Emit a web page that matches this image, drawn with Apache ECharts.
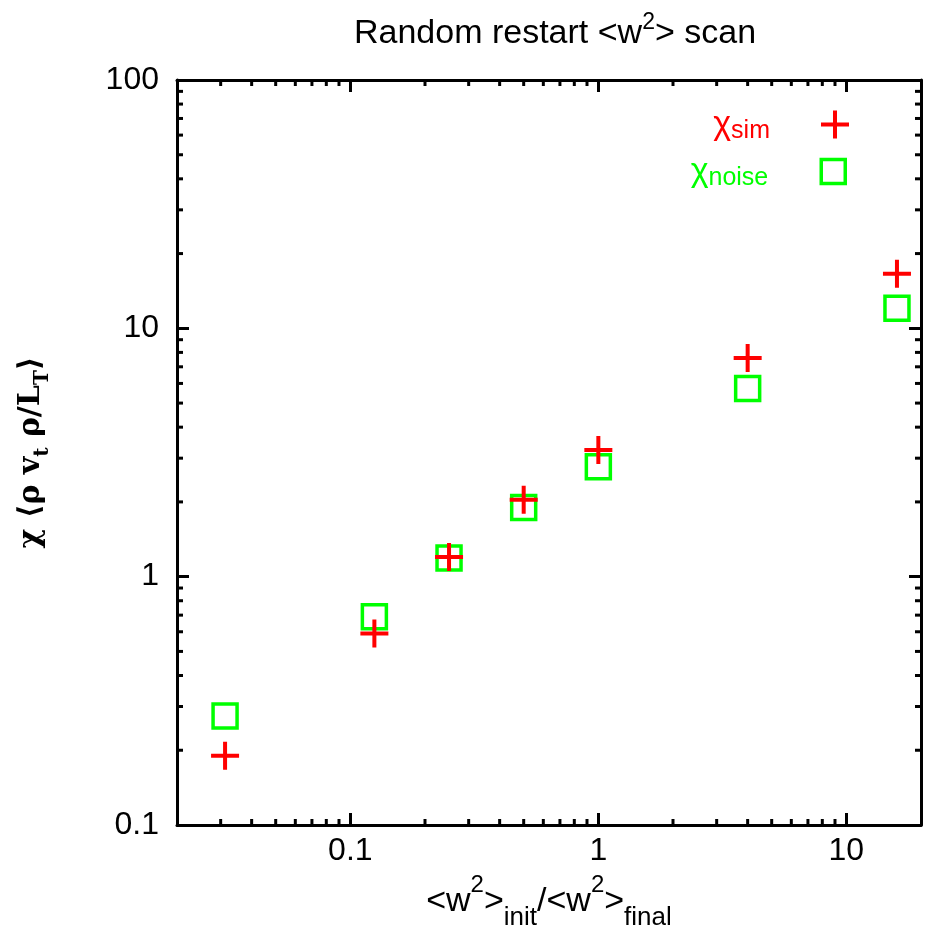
<!DOCTYPE html>
<html>
<head>
<meta charset="utf-8">
<script src="https://cdn.jsdelivr.net/npm/echarts@6/dist/echarts.min.js"></script>
<style>html,body{margin:0;padding:0;background:#fff}#c{width:934px;height:937px}</style>
</head>
<body>
<div id="c"></div>
<script>
// ---- data ----
const xValues = [0.03125, 0.125, 0.25, 0.5, 1, 4, 16];
const chiSim = [0.19, 0.59, 1.20, 2.04, 3.24, 7.6, 16.6];
const chiNoise = [0.275, 0.69, 1.19, 1.90, 2.77, 5.72, 12.05];
const xMajorLabels = [0.1, 1, 10];
const yMajorLabels = [0.1, 1, 10, 100];
const xMinorTicks = [0.03,0.04,0.05,0.06,0.07,0.08,0.09,0.2,0.3,0.4,0.5,0.6,0.7,0.8,0.9,2,3,4,5,6,7,8,9];
const yMinorTicks = [0.2,0.3,0.4,0.5,0.6,0.7,0.8,0.9,2,3,4,5,6,7,8,9,20,30,40,50,60,70,80,90];
const xRange = [0.02, 20];
const yRange = [0.1, 100];

const FONT = '"Liberation Sans", Arial, sans-serif';
const SERIF = '"DejaVu Serif", "Liberation Serif", serif';
const plusPath = 'path://M12,0H16V12H28V16H16V28H12V16H0V12H12Z';

function fmt(v, list) {
  for (const m of list) { if (Math.abs(v - m) / m < 1e-6) return String(m); }
  return '';
}

const chart = echarts.init(document.getElementById('c'), null, {renderer: 'canvas'});

function axisCommon(extra) {
  return Object.assign({
    type: 'log', logBase: 10,
    axisLine: {show: true, lineStyle: {color: '#000', width: 3}},
    axisTick: {show: true, inside: true, length: 12, lineStyle: {color: '#000', width: 3}},
    splitLine: {show: false},
    minorTick: {show: false},
  }, extra);
}

const option = {
  backgroundColor: '#fff',
  animation: false,
  title: {
    text: 'Random restart <w{sup|2}> scan',
    left: 550, top: 6, textAlign: 'center',
    textStyle: {
      fontFamily: FONT, fontSize: 34, fontWeight: 'normal', color: '#000', lineHeight: 46,
      rich: {sup: {fontFamily: FONT, fontSize: 23, verticalAlign: 'top', lineHeight: 46, color: '#000'}}
    }
  },
  grid: {left: 177, right: 13, top: 80, bottom: 112, containLabel: false},
  legend: [
    {
      data: [{name: 'χsim', icon: plusPath}],
      right: 85, top: 105, orient: 'vertical', align: 'right', padding: 0,
      itemWidth: 28, itemHeight: 28,
      formatter: () => '{c|χ}{s|sim}',
      textStyle: {
        color: '#ff0000',
        rich: {
          c: {fontFamily: FONT, fontSize: 34, color: '#ff0000', lineHeight: 40},
          s: {fontFamily: FONT, fontSize: 25, color: '#ff0000', padding: [14, 46, 0, 0], lineHeight: 40}
        }
      },
      itemStyle: {color: '#ff0000', opacity: 1}
    },
    {
      data: [{name: 'χnoise', icon: 'rect', itemStyle: {color: 'rgba(0,0,0,0)', borderColor: '#00ff00', borderWidth: 3.5, opacity: 1}}],
      right: 87, top: 152, orient: 'vertical', align: 'right', padding: 0,
      itemWidth: 24, itemHeight: 24,
      formatter: () => '{c|χ}{s|noise}',
      textStyle: {
        color: '#00ff00',
        rich: {
          c: {fontFamily: FONT, fontSize: 34, color: '#00ff00', lineHeight: 40},
          s: {fontFamily: FONT, fontSize: 25, color: '#00ff00', padding: [14, 48, 0, 0], lineHeight: 40}
        }
      }
    }
  ],
  xAxis: [
    axisCommon({
      position: 'bottom', min: xRange[0], max: xRange[1],
      axisLabel: {show: true, margin: 10, fontFamily: FONT, fontSize: 32, color: '#000',
        showMinLabel: false, showMaxLabel: false,
        formatter: v => fmt(v, xMajorLabels)},
      name: '<w{sup|2}>{sub|init}/<w{sup|2}>{sub|final}',
      nameLocation: 'middle', nameGap: 48,
      nameTextStyle: {
        fontFamily: FONT, fontSize: 34, color: '#000', lineHeight: 58, verticalAlign: 'top',
        rich: {
          sup: {fontFamily: FONT, fontSize: 24, verticalAlign: 'top', lineHeight: 58, color: '#000'},
          sub: {fontFamily: FONT, fontSize: 26, verticalAlign: 'bottom', lineHeight: 58, color: '#000'}
        }
      }
    }),
    axisCommon({
      position: 'top', min: xRange[0], max: xRange[1],
      axisLabel: {show: false}
    })
  ],
  yAxis: [
    axisCommon({
      position: 'left', min: yRange[0], max: yRange[1],
      axisLabel: {show: true, margin: 18, fontFamily: FONT, fontSize: 32, color: '#000',
        formatter: v => fmt(v, yMajorLabels)},
      name: 'χ ⟨ρ v{sub|t} ρ/L{sub|T}⟩',
      nameLocation: 'middle', nameGap: 124, nameRotate: 90,
      nameTextStyle: {
        fontFamily: SERIF, fontSize: 30, fontWeight: 'bold', color: '#000', lineHeight: 44,
        rich: {
          sub: {fontFamily: SERIF, fontSize: 20, fontWeight: 'bold', verticalAlign: 'bottom', lineHeight: 44, color: '#000'}
        }
      }
    }),
    axisCommon({
      position: 'right', min: yRange[0], max: yRange[1],
      axisLabel: {show: false}
    })
  ],
  series: [
    {
      name: 'xMinor', type: 'custom', xAxisIndex: 0, yAxisIndex: 0, silent: true, clip: false,
      data: xMinorTicks.map(v => [v, 1]),
      renderItem: function (params, api) {
        const cs = params.coordSys;
        const x = api.coord([api.value(0), 1])[0];
        const yb = cs.y + cs.height, yt = cs.y;
        return {type: 'group', children: [
          {type: 'line', shape: {x1: x, y1: yb, x2: x, y2: yb - 6}, style: {stroke: '#000', lineWidth: 3}},
          {type: 'line', shape: {x1: x, y1: yt, x2: x, y2: yt + 6}, style: {stroke: '#000', lineWidth: 3}}
        ]};
      }
    },
    {
      name: 'yMinor', type: 'custom', xAxisIndex: 0, yAxisIndex: 0, silent: true, clip: false,
      data: yMinorTicks.map(v => [1, v]),
      renderItem: function (params, api) {
        const cs = params.coordSys;
        const y = api.coord([1, api.value(1)])[1];
        const xl = cs.x, xr = cs.x + cs.width;
        return {type: 'group', children: [
          {type: 'line', shape: {x1: xl, y1: y, x2: xl + 6, y2: y}, style: {stroke: '#000', lineWidth: 3}},
          {type: 'line', shape: {x1: xr, y1: y, x2: xr - 6, y2: y}, style: {stroke: '#000', lineWidth: 3}}
        ]};
      }
    },
    {
      name: 'χnoise', type: 'scatter', xAxisIndex: 0, yAxisIndex: 0,
      data: xValues.map((x, i) => [x, chiNoise[i]]),
      symbol: 'rect', symbolSize: 24,
      itemStyle: {color: 'rgba(0,0,0,0)', borderColor: '#00ff00', borderWidth: 3.5, opacity: 1},
      z: 3
    },
    {
      name: 'χsim', type: 'scatter', xAxisIndex: 0, yAxisIndex: 0,
      data: xValues.map((x, i) => [x, chiSim[i]]),
      symbol: plusPath, symbolSize: 28,
      itemStyle: {color: '#ff0000', opacity: 1},
      z: 4
    }
  ]
};
chart.setOption(option);
</script>
</body>
</html>
